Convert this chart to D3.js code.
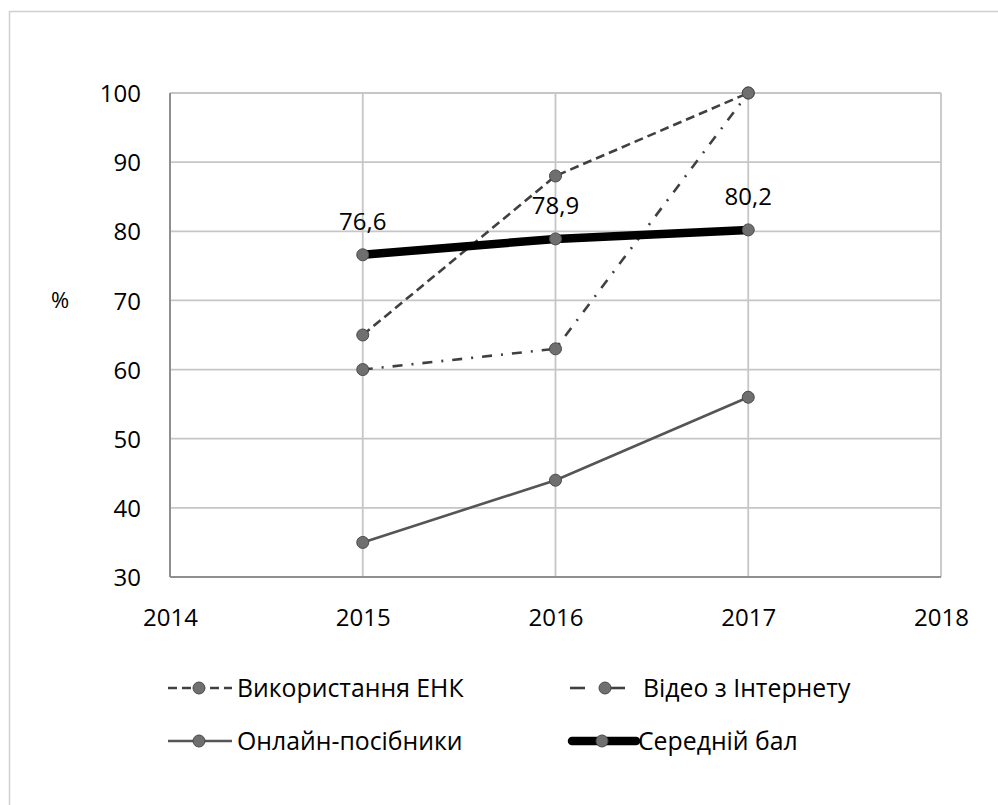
<!DOCTYPE html>
<html>
<head>
<meta charset="utf-8">
<script src="https://cdn.jsdelivr.net/npm/d3@7"></script>
<style>
  html, body { margin: 0; padding: 0; background: #fff; }
  svg { display: block; font-family: "Open Sans", "Noto Sans", sans-serif; }
</style>
</head>
<body>
<svg id="chart" width="998" height="805"></svg>
<script>
// Years on the x axis
const years = [2015, 2016, 2017];
const xTicks = [2014, 2015, 2016, 2017, 2018];
const yTicks = [30, 40, 50, 60, 70, 80, 90, 100];

// Series values, %
const enkValues = [65, 88, 100];       // Використання ЕНК
const videoValues = [60, 63, 100];     // Відео з Інтернету
const onlineValues = [35, 44, 56];     // Онлайн-посібники
const avgValues = [76.6, 78.9, 80.2];  // Середній бал
const avgLabels = ["76,6", "78,9", "80,2"];

const seriesNames = ["Використання ЕНК", "Відео з Інтернету", "Онлайн-посібники", "Середній бал"];

const FS = 24;
const LEGEND_FS = 24.8;

const svg = d3.select("#chart");

// outer frame
svg.append("rect")
  .attr("x", 9.5).attr("y", 11.5)
  .attr("width", 1000).attr("height", 800)
  .attr("fill", "none").attr("stroke", "#d0d0d0").attr("stroke-width", 1.5);

const plot = { left: 170, right: 941, top: 93, bottom: 577 };

const x = d3.scaleLinear().domain([2014, 2018]).range([plot.left, plot.right]);
const y = d3.scaleLinear().domain([30, 100]).range([plot.bottom, plot.top]);

// gridlines
const grid = svg.append("g");
grid.selectAll("line.h").data(yTicks).enter().append("line")
  .attr("x1", plot.left).attr("x2", plot.right)
  .attr("y1", d => y(d)).attr("y2", d => y(d))
  .attr("stroke", "#c6c6c6").attr("stroke-width", 1.8);
grid.selectAll("line.v").data(xTicks).enter().append("line")
  .attr("x1", d => x(d)).attr("x2", d => x(d))
  .attr("y1", plot.top).attr("y2", plot.bottom)
  .attr("stroke", "#c6c6c6").attr("stroke-width", 1.8);

// axis lines
svg.append("line").attr("x1", plot.left).attr("x2", plot.left)
  .attr("y1", plot.top).attr("y2", plot.bottom)
  .attr("stroke", "#8f8f8f").attr("stroke-width", 2);
svg.append("line").attr("x1", plot.left).attr("x2", plot.right)
  .attr("y1", plot.bottom).attr("y2", plot.bottom)
  .attr("stroke", "#8f8f8f").attr("stroke-width", 2);

// y axis labels
const yAxis = d3.axisLeft(y).tickValues(yTicks).tickSize(0).tickPadding(0).tickFormat(d3.format("d"));
const yG = svg.append("g").attr("transform", `translate(${plot.left - 29},0)`).call(yAxis);
yG.select(".domain").remove();
yG.selectAll("text").attr("font-size", FS).attr("fill", "#000")
  .attr("font-family", "'Open Sans', sans-serif").attr("dy", "0.36em");

// x axis labels
const xAxis = d3.axisBottom(x).tickValues(xTicks).tickSize(0).tickPadding(0).tickFormat(d3.format("d"));
const xG = svg.append("g").attr("transform", `translate(0,${plot.bottom + 40})`).call(xAxis);
xG.select(".domain").remove();
xG.selectAll("text").attr("font-size", FS).attr("fill", "#000")
  .attr("font-family", "'Open Sans', sans-serif").attr("dy", "0.36em");

// axis title
svg.append("text").attr("x", 60).attr("y", 300).attr("dy", "0.36em")
  .attr("text-anchor", "middle").attr("font-size", 22).text("%");

const line = d3.line().x((d, i) => x(years[i])).y(d => y(d));

const styles = [
  { values: enkValues,    stroke: "#404040", width: 2.6, dash: "9,5" },
  { values: videoValues,  stroke: "#404040", width: 2.6, dash: "10,9,2,9" },
  { values: onlineValues, stroke: "#555555", width: 2.6, dash: null },
  { values: avgValues,    stroke: "#000000", width: 8.5, dash: null }
];

styles.forEach(s => {
  svg.append("path").datum(s.values)
    .attr("d", line).attr("fill", "none")
    .attr("stroke", s.stroke).attr("stroke-width", s.width)
    .attr("stroke-dasharray", s.dash);
});

function marker(g, cx, cy) {
  g.append("circle").attr("cx", cx).attr("cy", cy).attr("r", 6)
    .attr("fill", "#6f6f6f").attr("stroke", "#4a4a4a").attr("stroke-width", 1);
}

styles.forEach(s => {
  s.values.forEach((v, i) => marker(svg, x(years[i]), y(v)));
});

// value labels for the average line
svg.selectAll("text.lbl").data(avgValues).enter().append("text")
  .attr("x", (d, i) => x(years[i]))
  .attr("y", d => y(d) - 25)
  .attr("text-anchor", "middle").attr("font-size", FS)
  .text((d, i) => avgLabels[i]);

// legend
const legend = [
  { name: seriesNames[0], s: styles[0], lx: 168, ly: 688, tx: 237 },
  { name: seriesNames[1], s: styles[1], lx: 568, ly: 688, tx: 643 },
  { name: seriesNames[2], s: styles[2], lx: 168, ly: 741, tx: 237 },
  { name: seriesNames[3], s: styles[3], lx: 572, ly: 741, tx: 638 }
];
legend.forEach((l, i) => {
  const g = svg.append("g");
  if (i === 1) {
    g.append("line").attr("x1", 570).attr("x2", 585).attr("y1", l.ly).attr("y2", l.ly)
      .attr("stroke", l.s.stroke).attr("stroke-width", l.s.width);
    g.append("line").attr("x1", 610).attr("x2", 625).attr("y1", l.ly).attr("y2", l.ly)
      .attr("stroke", l.s.stroke).attr("stroke-width", l.s.width);
    marker(g, 605, l.ly);
  } else {
    g.append("line").attr("x1", l.lx).attr("x2", l.lx + 64).attr("y1", l.ly).attr("y2", l.ly)
      .attr("stroke", l.s.stroke).attr("stroke-width", l.s.width)
      .attr("stroke-dasharray", l.s.dash)
      .attr("stroke-linecap", i === 3 ? "round" : "butt");
    marker(g, l.lx + (i === 3 ? 30 : 31), l.ly);
  }
  g.append("text").attr("x", l.tx).attr("y", l.ly).attr("dy", "0.36em")
    .attr("font-size", LEGEND_FS).text(l.name);
});
</script>
</body>
</html>
